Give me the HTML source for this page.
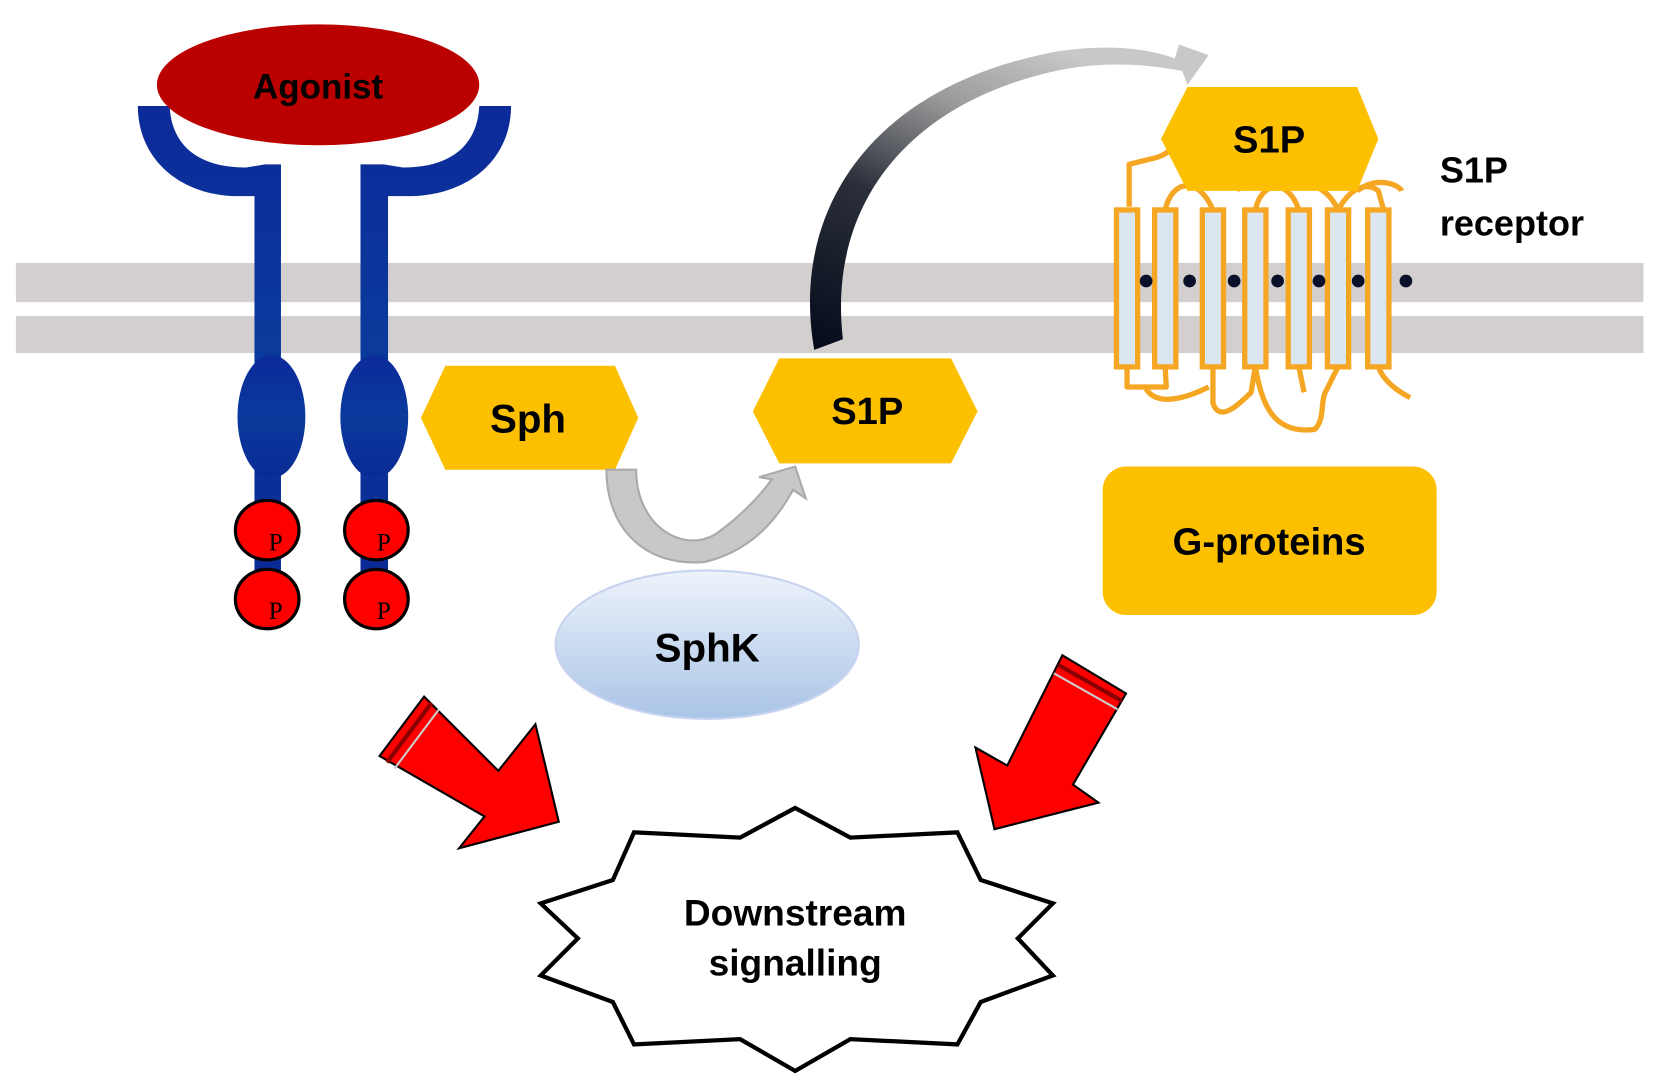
<!DOCTYPE html>
<html><head><meta charset="utf-8"><style>
html,body{margin:0;padding:0;background:#fff;}
svg{display:block}
text{font-family:"Liberation Sans",sans-serif;font-weight:bold;fill:#000}
text.serif{font-family:"Liberation Serif",serif;font-weight:normal}
</style></head><body>
<svg width="1654" height="1090" viewBox="0 0 1560 1028" preserveAspectRatio="none" xmlns="http://www.w3.org/2000/svg">
<defs>
<linearGradient id="blue" x1="0" y1="0" x2="0" y2="1">
<stop offset="0" stop-color="#0c2a9a"/><stop offset="0.5" stop-color="#0a3a9c"/><stop offset="1" stop-color="#0a2a95"/></linearGradient>
<linearGradient id="sphk" x1="0" y1="0" x2="0" y2="1">
<stop offset="0" stop-color="#eef3fb"/><stop offset="1" stop-color="#a9c4e6"/></linearGradient>
<linearGradient id="curve" x1="0" y1="1" x2="0.6" y2="0">
<stop offset="0" stop-color="#050a1a"/><stop offset="0.45" stop-color="#2a2f3a"/><stop offset="0.75" stop-color="#9a9a9a"/><stop offset="1" stop-color="#c8c8c8"/></linearGradient>
</defs>
<rect x="15" y="248" width="1535" height="37" fill="#d3cfcf"/>
<rect x="15" y="298" width="1535" height="35" fill="#d3cfcf"/>

<g fill="url(#blue)">
<path d="M130,100 L160,100 C162,140 190,158 232,158 L250,155 L265,155 L265,545 L240,545 L240,185 L225,185 C170,185 130,150 130,100 Z"/>
<path d="M482,100 L452,100 C450,140 422,158 380,158 L362,155 L340,155 L340,545 L366,545 L366,185 L385,185 C442,185 482,150 482,100 Z"/>
<ellipse cx="256" cy="393" rx="32" ry="58"/>
<ellipse cx="353" cy="393" rx="32" ry="58"/>
</g>
<ellipse cx="300" cy="80" rx="152" ry="57" fill="#bb0000"/>
<text x="300" y="93" font-size="33" text-anchor="middle">Agonist</text>
<g fill="#ff0000" stroke="#000" stroke-width="3">
<ellipse cx="252" cy="500" rx="30" ry="28"/><ellipse cx="252" cy="565" rx="30" ry="28"/>
<ellipse cx="355" cy="500" rx="30" ry="28"/><ellipse cx="355" cy="565" rx="30" ry="28"/>
</g>
<g font-size="24" text-anchor="middle">
<text class="serif" x="260" y="519">P</text><text class="serif" x="260" y="584">P</text><text class="serif" x="362" y="519">P</text><text class="serif" x="362" y="584">P</text>
</g>

<polygon points="420,345 580,345 602,394 580,443 420,443 397,394" fill="#fcc000"/>
<text x="498" y="408" font-size="38" text-anchor="middle">Sph</text>
<polygon points="735,338 897,338 922,388 897,437 735,437 710,388" fill="#fcc000"/>
<text x="818" y="400" font-size="36" text-anchor="middle">S1P</text>

<path d="M572,443 L600,443 C600,500 650,525 680,500 C700,485 715,470 728,452 L716,450 L750,440 L760,470 L748,462 C730,495 705,520 665,530 C610,535 572,500 572,443 Z" fill="#c8c8c8" stroke="#aaa" stroke-width="2"/>

<ellipse cx="667" cy="608" rx="143" ry="70" fill="url(#sphk)" stroke="#c7d3ef" stroke-width="2"/>
<text x="667" y="624" font-size="38" text-anchor="middle">SphK</text>

<path d="M768,330 C745,200 820,80 1000,48 C1045,42 1080,45 1108,55 L1112,42 L1140,52 L1120,80 L1115,67 C1080,60 1040,58 1000,66 C860,95 780,190 795,320 Z" fill="url(#curve)"/>

<g fill="none" stroke="#f5a623" stroke-width="5" stroke-linejoin="round">
<path d="M1065,195 L1065,155 L1085,150 C1095,148 1100,145 1105,140"/>
<path d="M1099,198 C1105,170 1130,165 1144,198"/>
<path d="M1120,175 C1140,160 1165,170 1170,180"/>
<path d="M1184,198 C1190,170 1215,168 1225,198"/>
<path d="M1200,178 C1230,170 1250,172 1262,198"/>
<path d="M1262,198 C1275,175 1290,172 1300,180 L1305,198"/>
<path d="M1280,180 C1300,165 1320,175 1322,180"/>
<path d="M1063,346 L1063,365 L1100,365 L1099,346"/>
<path d="M1080,365 C1090,385 1120,375 1140,365"/>
<path d="M1144,346 L1144,380 C1150,400 1170,380 1180,370 L1184,346"/>
<path d="M1184,346 C1190,380 1200,410 1240,405 C1250,395 1245,380 1250,370 L1262,346"/>
<path d="M1225,346 L1230,370"/>
<path d="M1300,346 C1305,360 1320,370 1330,375"/>
</g>
<g fill="#dce6f0" stroke="#f5a623" stroke-width="5">
<rect x="1053" y="198" width="20" height="148"/>
<rect x="1089" y="198" width="20" height="148"/>
<rect x="1134" y="198" width="20" height="148"/>
<rect x="1174" y="198" width="20" height="148"/>
<rect x="1215" y="198" width="20" height="148"/>
<rect x="1252" y="198" width="20" height="148"/>
<rect x="1290" y="198" width="20" height="148"/>
</g>
<g fill="#0a0f2a">
<circle cx="1081" cy="265" r="6"/><circle cx="1122" cy="265" r="6"/><circle cx="1164" cy="265" r="6"/>
<circle cx="1205" cy="265" r="6"/><circle cx="1244" cy="265" r="6"/><circle cx="1281" cy="265" r="6"/><circle cx="1326" cy="265" r="6"/>
</g>
<polygon points="1120,82 1280,82 1300,131 1280,180 1120,180 1095,131" fill="#fcc000"/>
<text x="1197" y="144" font-size="36" text-anchor="middle">S1P</text>
<text x="1358" y="172" font-size="34">S1P</text>
<text x="1358" y="222" font-size="34">receptor</text>

<rect x="1040" y="440" width="315" height="140" rx="22" fill="#fcc000"/>
<text x="1197" y="523" font-size="36" text-anchor="middle">G-proteins</text>

<polygon points="358,713 400,657 470,727 505,683 527,775 433,800 457,770" fill="#ff0000" stroke="#000" stroke-width="2"/>
<line x1="365" y1="719" x2="407" y2="663" stroke="#8a0000" stroke-width="4"/>
<line x1="372" y1="725" x2="414" y2="669" stroke="#ccc" stroke-width="2"/>
<polygon points="1002,618 1062,654 1012,740 1036,757 938,782 920,705 950,722" fill="#ff0000" stroke="#000" stroke-width="2"/>
<line x1="998" y1="627" x2="1058" y2="661" stroke="#8a0000" stroke-width="4"/>
<line x1="994" y1="635" x2="1054" y2="669" stroke="#ccc" stroke-width="2"/>

<polygon points="750,762 802,790 903,785 925,830 993,852 960,885 993,920 925,945 903,985 802,980 750,1010 698,980 598,985 578,945 510,920 545,885 510,852 578,830 598,785 698,790" fill="#fff" stroke="#000" stroke-width="4"/>
<text x="750" y="873" font-size="35" text-anchor="middle">Downstream</text>
<text x="750" y="920" font-size="35" text-anchor="middle">signalling</text>
</svg>
</body></html>
